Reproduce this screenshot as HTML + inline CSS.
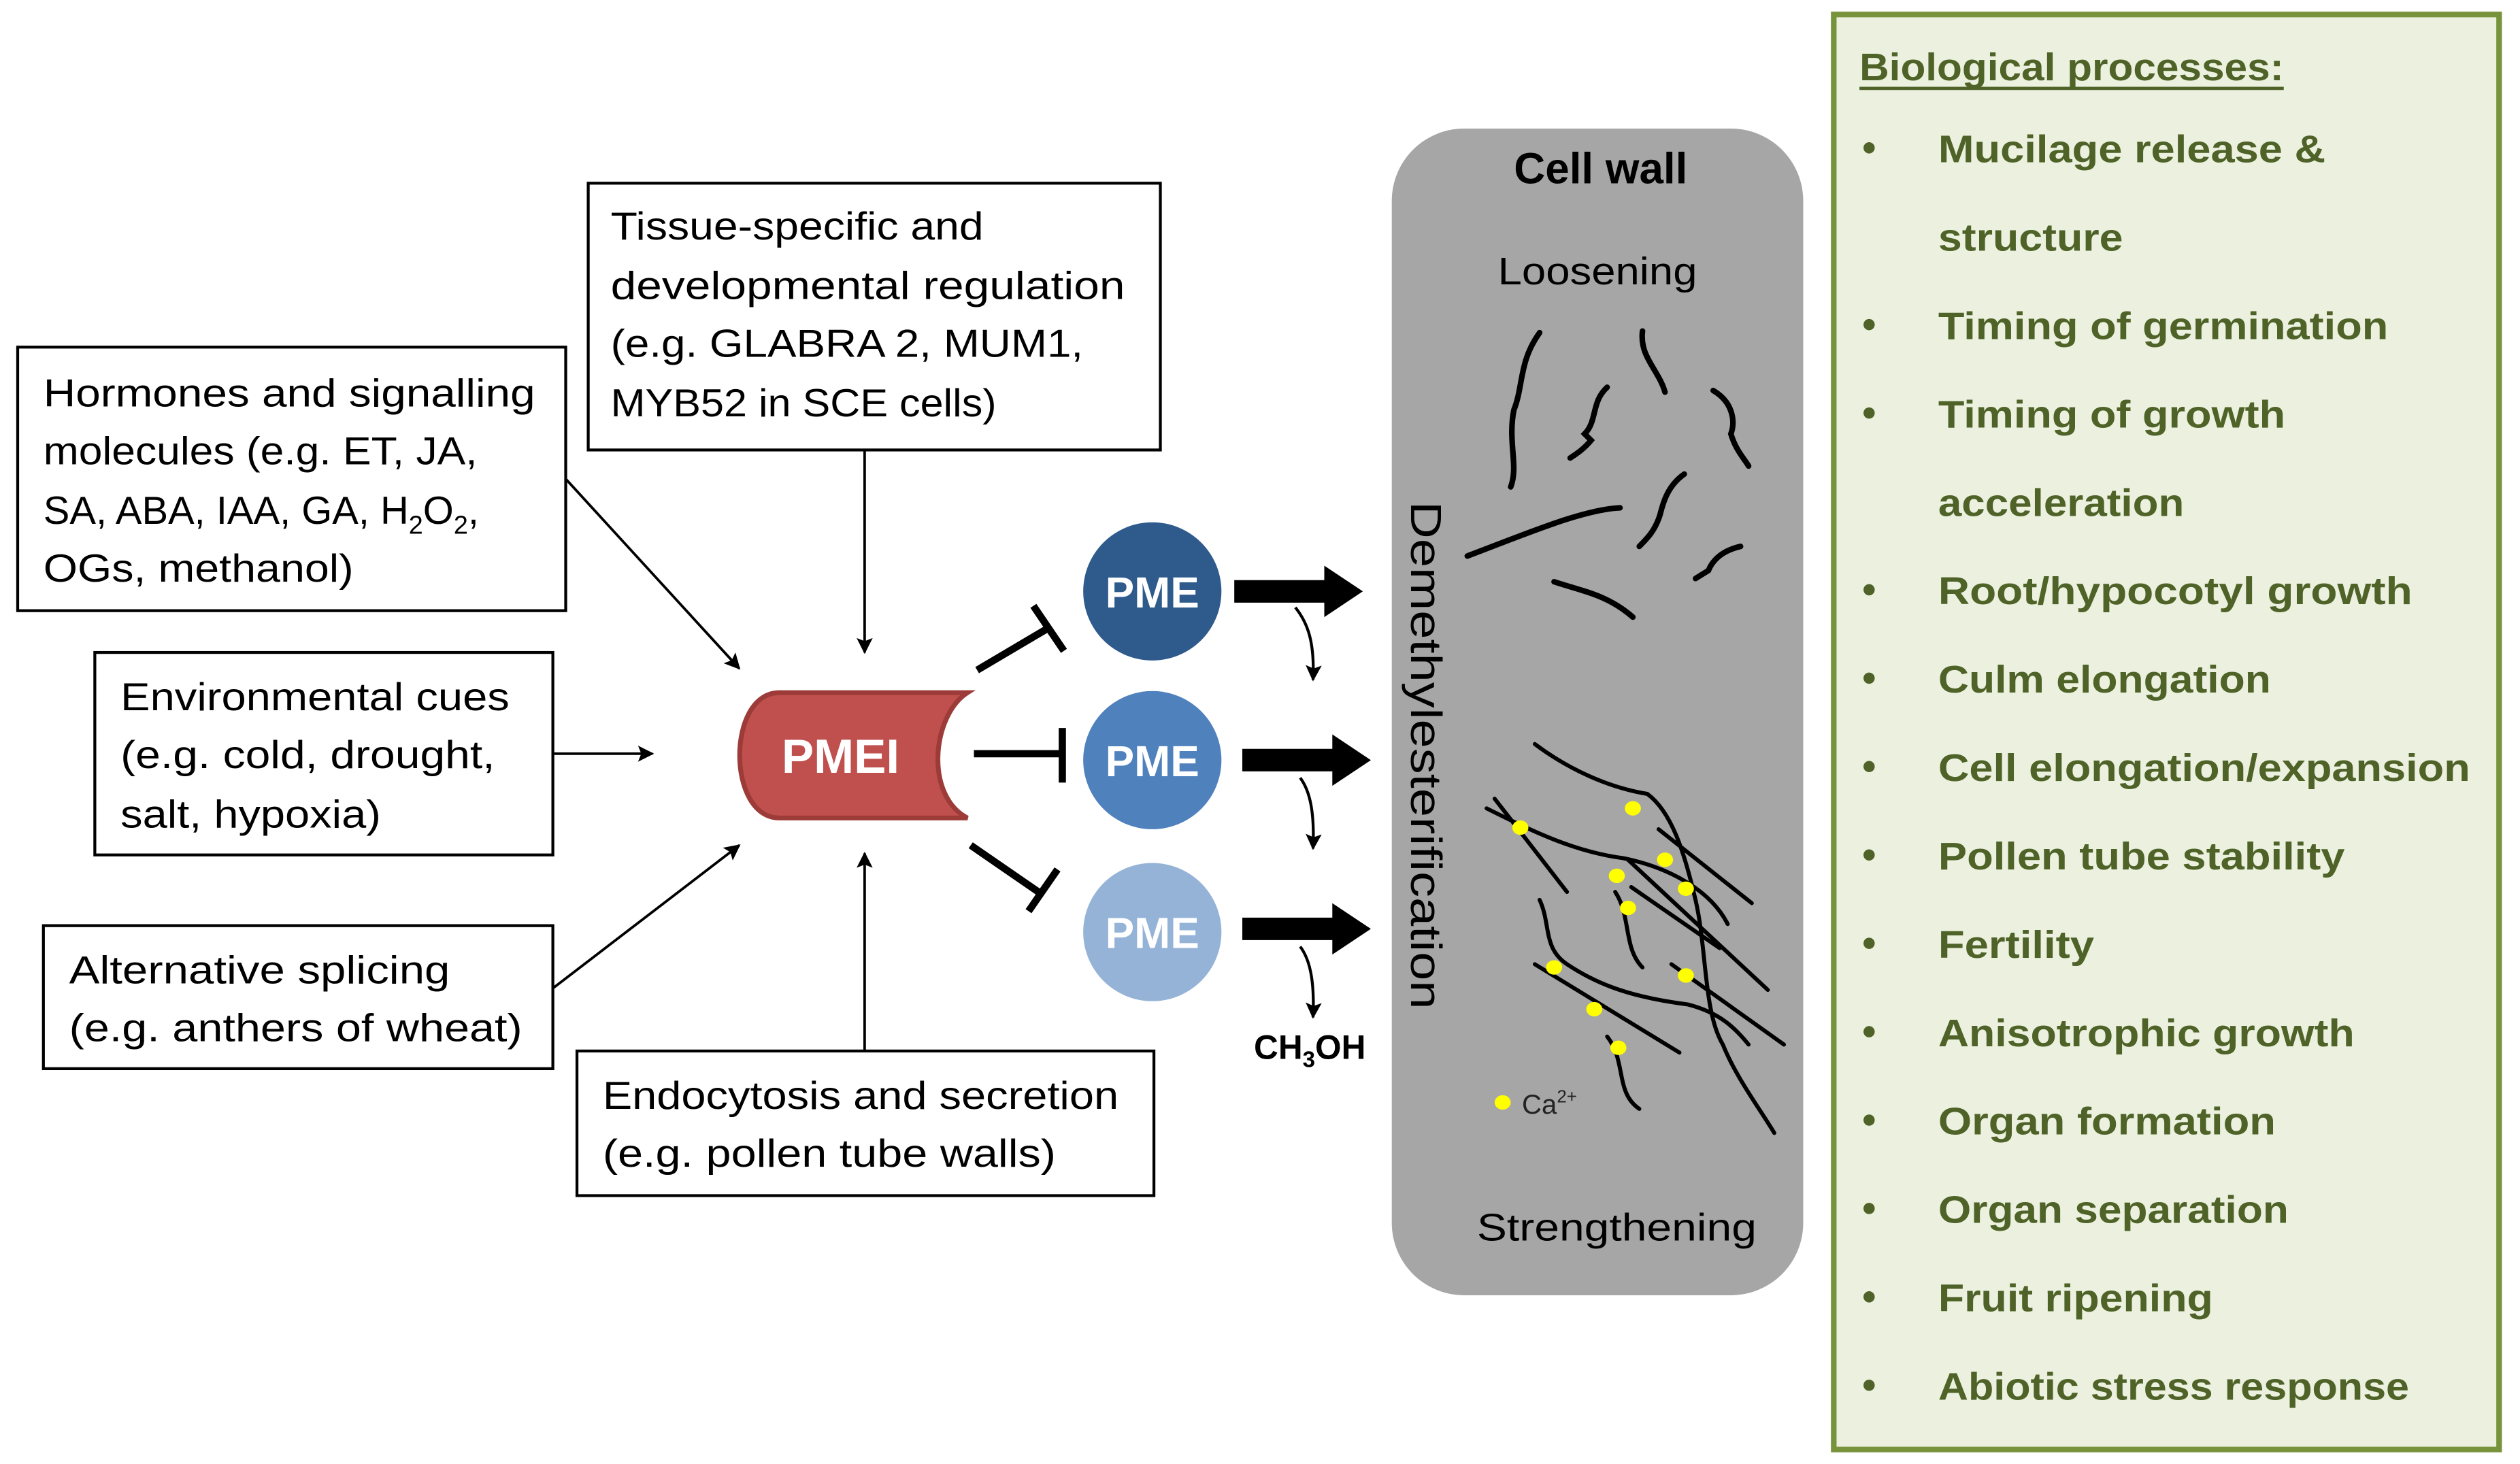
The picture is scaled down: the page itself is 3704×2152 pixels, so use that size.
<!DOCTYPE html>
<html><head><meta charset="utf-8"><style>
html,body{margin:0;padding:0;background:#fff;}
svg{display:block;}
text{font-family:"Liberation Sans",sans-serif;}
</style></head><body>
<svg width="3704" height="2152" viewBox="0 0 1568 911" xmlns="http://www.w3.org/2000/svg">
<defs>
<marker id="ah" markerWidth="10" markerHeight="10" refX="9" refY="5" orient="auto" markerUnits="userSpaceOnUse">
<path d="M0,0 L10,5 L0,10 L2,5 Z" fill="#000"/></marker>
</defs>
<rect width="1568" height="911" fill="#fff"/>
<g fill="#fff" stroke="#000" stroke-width="1.8">
<rect x="366" y="114" width="356" height="166"/>
<rect x="11" y="216" width="341" height="164"/>
<rect x="59" y="406" width="285" height="126"/>
<rect x="27" y="576" width="317" height="89"/>
<rect x="359" y="654" width="359" height="90"/>
</g>
<g font-size="24.5" fill="#000">
<text x="380" y="149" textLength="232" lengthAdjust="spacingAndGlyphs">Tissue-specific and</text>
<text x="380" y="186" textLength="320" lengthAdjust="spacingAndGlyphs">developmental regulation</text>
<text x="380" y="222" textLength="294" lengthAdjust="spacingAndGlyphs">(e.g. GLABRA 2, MUM1,</text>
<text x="380" y="259" textLength="240" lengthAdjust="spacingAndGlyphs">MYB52 in SCE cells)</text>
<text x="27" y="253" textLength="306" lengthAdjust="spacingAndGlyphs">Hormones and signalling</text>
<text x="27" y="289" textLength="270" lengthAdjust="spacingAndGlyphs">molecules (e.g. ET, JA,</text>
<text x="27" y="326">SA, ABA, IAA, GA, H<tspan font-size="16" dy="6">2</tspan><tspan dy="-6">O</tspan><tspan font-size="16" dy="6">2</tspan><tspan dy="-6">,</tspan></text>
<text x="27" y="362" textLength="193" lengthAdjust="spacingAndGlyphs">OGs, methanol)</text>
<text x="75" y="442" textLength="242" lengthAdjust="spacingAndGlyphs">Environmental cues</text>
<text x="75" y="478" textLength="233" lengthAdjust="spacingAndGlyphs">(e.g. cold, drought,</text>
<text x="75" y="515" textLength="162" lengthAdjust="spacingAndGlyphs">salt, hypoxia)</text>
<text x="43" y="612" textLength="237" lengthAdjust="spacingAndGlyphs">Alternative splicing</text>
<text x="43" y="648" textLength="282" lengthAdjust="spacingAndGlyphs">(e.g. anthers of wheat)</text>
<text x="375" y="690" textLength="321" lengthAdjust="spacingAndGlyphs">Endocytosis and secretion</text>
<text x="375" y="726" textLength="282" lengthAdjust="spacingAndGlyphs">(e.g. pollen tube walls)</text>
</g>
<g stroke="#000" stroke-width="1.6" fill="none" marker-end="url(#ah)">
<line x1="352" y1="298" x2="460" y2="416"/>
<line x1="344" y1="469" x2="406" y2="469"/>
<line x1="538" y1="280" x2="538" y2="406"/>
<line x1="344" y1="615" x2="460" y2="526"/>
<line x1="538" y1="654" x2="538" y2="531"/>
</g>
<path d="M485,431 L602,431 C580,445 575,495 602,509 L485,509 C452,509 452,431 485,431 Z" fill="#c0504d" stroke="#9c3b38" stroke-width="3"/>
<text x="523" y="481" font-size="30" font-weight="bold" fill="#fff" text-anchor="middle">PMEI</text>
<g stroke="#000" stroke-width="4.5" fill="none">
<line x1="608" y1="417" x2="652" y2="391"/>
<line x1="643" y1="377" x2="662" y2="405"/>
<line x1="606" y1="469" x2="660" y2="469"/>
<line x1="661" y1="453" x2="661" y2="487"/>
<line x1="604" y1="526" x2="649" y2="557"/>
<line x1="658" y1="541" x2="640" y2="567"/>
</g>
<circle cx="717" cy="368" r="43" fill="#2e5a8c"/>
<circle cx="717" cy="473" r="43" fill="#4f81bd"/>
<circle cx="717" cy="580" r="43" fill="#95b3d7"/>
<g font-size="27" font-weight="bold" fill="#fff" text-anchor="middle">
<text x="717" y="378">PME</text><text x="717" y="483">PME</text><text x="717" y="590">PME</text>
</g>
<g fill="#000">
<path d="M768,361 L824,361 L824,352 L848,368 L824,384 L824,375 L768,375 Z"/>
<path d="M773,466 L829,466 L829,457 L853,473 L829,489 L829,480 L773,480 Z"/>
<path d="M773,571 L829,571 L829,562 L853,578 L829,594 L829,585 L773,585 Z"/>
</g>
<g stroke="#000" stroke-width="1.8" fill="none" marker-end="url(#ah)">
<path d="M806,378 C814,388 818,400 817,423"/>
<path d="M809,484 C815,492 818,505 817,528"/>
<path d="M809,589 C815,597 818,610 817,633"/>
</g>
<text x="815" y="659" font-size="21" font-weight="bold" text-anchor="middle">CH<tspan font-size="14" dy="5">3</tspan><tspan dy="-5">OH</tspan></text>
<rect x="866" y="80" width="256" height="726" rx="45" fill="#a6a6a6"/>
<text x="996" y="114" font-size="27" font-weight="bold" text-anchor="middle">Cell wall</text>
<text x="994" y="177" font-size="24" text-anchor="middle" textLength="124" lengthAdjust="spacingAndGlyphs">Loosening</text>
<text x="1006" y="772" font-size="24" text-anchor="middle" textLength="174" lengthAdjust="spacingAndGlyphs">Strengthening</text>
<text transform="translate(878,470) rotate(90)" font-size="27" text-anchor="middle" textLength="316" lengthAdjust="spacingAndGlyphs">Demethylesterification</text>
<g stroke="#000" stroke-width="3.5" fill="none" stroke-linecap="round">
<path d="M958,207 C945,225 948,240 942,255 C938,275 945,290 940,303"/>
<path d="M1022,206 C1020,222 1032,230 1036,244"/>
<path d="M1000,241 C990,250 994,262 986,270 L990,274 C985,280 980,283 977,285"/>
<path d="M1066,243 C1078,250 1080,262 1077,270 C1080,280 1085,285 1088,290"/>
<path d="M913,346 C950,332 985,317 1008,316"/>
<path d="M1048,295 C1038,302 1035,312 1033,320 C1030,330 1025,335 1020,340"/>
<path d="M1083,340 C1070,343 1065,350 1063,355 L1055,360"/>
<path d="M967,362 C985,368 1000,370 1016,384"/>
</g>
<g stroke="#000" stroke-width="2.5" fill="none" stroke-linecap="round">
<path d="M955,463 C975,478 1000,490 1025,494 C1040,505 1048,530 1055,560 C1062,590 1060,630 1072,650 C1080,670 1095,690 1104,705"/>
<path d="M925,503 C955,518 980,530 1010,534 C1040,540 1065,555 1075,575"/>
<path d="M930,497 L975,555"/>
<path d="M1032,516 L1090,562"/>
<path d="M1013,535 L1100,616"/>
<path d="M1005,555 C1015,570 1010,590 1022,602"/>
<path d="M958,560 C965,575 960,590 975,600 C990,610 1010,620 1050,625 C1070,630 1080,640 1088,650"/>
<path d="M955,600 L1045,655"/>
<path d="M1040,600 L1110,650"/>
<path d="M1000,645 C1012,660 1005,680 1020,690"/>
<path d="M1015,552 L1070,590"/>
</g>
<g fill="#ffff00">
<ellipse cx="946" cy="515" rx="5" ry="4.5"/><ellipse cx="1016" cy="503" rx="5" ry="4.5"/>
<ellipse cx="1036" cy="535" rx="5" ry="4.5"/><ellipse cx="1049" cy="553" rx="5" ry="4.5"/>
<ellipse cx="1006" cy="545" rx="5" ry="4.5"/><ellipse cx="1013" cy="565" rx="5" ry="4.5"/>
<ellipse cx="967" cy="602" rx="5" ry="4.5"/><ellipse cx="1049" cy="607" rx="5" ry="4.5"/>
<ellipse cx="992" cy="628" rx="5" ry="4.5"/><ellipse cx="1007" cy="652" rx="5" ry="4.5"/>
<ellipse cx="935" cy="686" rx="5" ry="4.5"/>
</g>
<text x="947" y="693" font-size="17" fill="#222">Ca<tspan font-size="11" dy="-7">2+</tspan></text>
<rect x="1141" y="9" width="414" height="893" fill="#ebf1de" stroke="#77933c" stroke-width="3.5"/>
<g fill="#4f6228" font-weight="bold" font-size="24">
<text x="1157" y="50" textLength="264" lengthAdjust="spacingAndGlyphs">Biological processes:</text>
<rect x="1157" y="54" width="264" height="2"/>
<g><circle cx="1163" cy="92" r="3.5"/><circle cx="1163" cy="202" r="3.5"/><circle cx="1163" cy="257" r="3.5"/><circle cx="1163" cy="367" r="3.5"/><circle cx="1163" cy="422" r="3.5"/><circle cx="1163" cy="477" r="3.5"/><circle cx="1163" cy="532" r="3.5"/><circle cx="1163" cy="587" r="3.5"/><circle cx="1163" cy="642" r="3.5"/><circle cx="1163" cy="697" r="3.5"/><circle cx="1163" cy="752" r="3.5"/><circle cx="1163" cy="807" r="3.5"/><circle cx="1163" cy="862" r="3.5"/></g>
<text x="1206" y="101" textLength="241" lengthAdjust="spacingAndGlyphs">Mucilage release &amp;</text>
<text x="1206" y="156" textLength="115" lengthAdjust="spacingAndGlyphs">structure</text>
<text x="1206" y="211" textLength="280" lengthAdjust="spacingAndGlyphs">Timing of germination</text>
<text x="1206" y="266" textLength="216" lengthAdjust="spacingAndGlyphs">Timing of growth</text>
<text x="1206" y="321" textLength="153" lengthAdjust="spacingAndGlyphs">acceleration</text>
<text x="1206" y="376" textLength="295" lengthAdjust="spacingAndGlyphs">Root/hypocotyl growth</text>
<text x="1206" y="431" textLength="207" lengthAdjust="spacingAndGlyphs">Culm elongation</text>
<text x="1206" y="486" textLength="331" lengthAdjust="spacingAndGlyphs">Cell elongation/expansion</text>
<text x="1206" y="541" textLength="253" lengthAdjust="spacingAndGlyphs">Pollen tube stability</text>
<text x="1206" y="596" textLength="97" lengthAdjust="spacingAndGlyphs">Fertility</text>
<text x="1206" y="651" textLength="259" lengthAdjust="spacingAndGlyphs">Anisotrophic growth</text>
<text x="1206" y="706" textLength="210" lengthAdjust="spacingAndGlyphs">Organ formation</text>
<text x="1206" y="761" textLength="218" lengthAdjust="spacingAndGlyphs">Organ separation</text>
<text x="1206" y="816" textLength="171" lengthAdjust="spacingAndGlyphs">Fruit ripening</text>
<text x="1206" y="871" textLength="293" lengthAdjust="spacingAndGlyphs">Abiotic stress response</text>
</g>
</svg>
</body></html>
